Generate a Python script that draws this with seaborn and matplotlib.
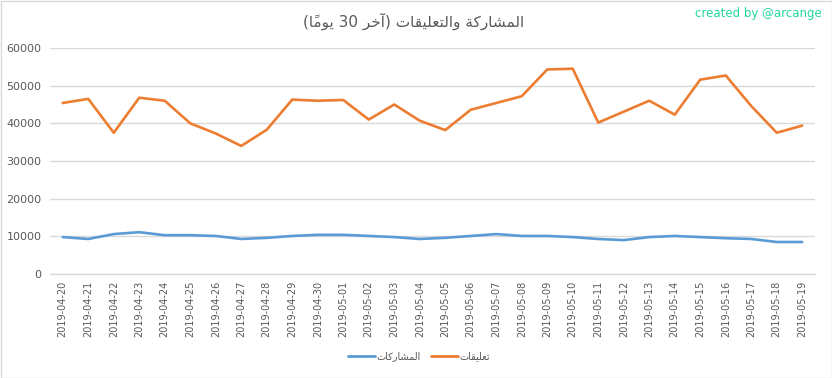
import matplotlib
matplotlib.use("Agg")
import matplotlib.pyplot as plt
from matplotlib.patches import Rectangle
from matplotlib.lines import Line2D
import seaborn as sns
import pandas as pd

dates = ["2019-04-20", "2019-04-21", "2019-04-22", "2019-04-23", "2019-04-24",
         "2019-04-25", "2019-04-26", "2019-04-27", "2019-04-28", "2019-04-29",
         "2019-04-30", "2019-05-01", "2019-05-02", "2019-05-03", "2019-05-04",
         "2019-05-05", "2019-05-06", "2019-05-07", "2019-05-08", "2019-05-09",
         "2019-05-10", "2019-05-11", "2019-05-12", "2019-05-13", "2019-05-14",
         "2019-05-15", "2019-05-16", "2019-05-17", "2019-05-18", "2019-05-19"]

posts = [9800, 9300, 10600, 11100, 10300, 10300, 10100, 9300, 9600, 10100,
         10400, 10400, 10100, 9800, 9300, 9600, 10100, 10600, 10100, 10100,
         9800, 9300, 9000, 9800, 10100, 9800, 9500, 9300, 8500, 8500]

comments = [45400, 46500, 37500, 46800, 46000, 40000, 37300, 34000, 38300, 46300,
            46000, 46200, 41000, 45000, 40700, 38200, 43600, 45400, 47200, 54300,
            54500, 40200, 43100, 46000, 42300, 51600, 52700, 44600, 37500, 39400]

series_names = ["المشاركات", "تعليقات"]
title_text = "المشاركة والتعليقات (آخر 30 يومًا)"
credit_text = "created by @arcange"
yticks = [0, 10000, 20000, 30000, 40000, 50000, 60000]

# ---- minimal Arabic shaping + visual ordering (matplotlib has no bidi) ----
FORMS = {  # iso, fin, ini, med (None => right-joining only)
    "\u0627": ("\uFE8D", "\uFE8E", None, None),
    "\u0622": ("\uFE81", "\uFE82", None, None),
    "\u0629": ("\uFE93", "\uFE94", None, None),
    "\u0631": ("\uFEAD", "\uFEAE", None, None),
    "\u0648": ("\uFEED", "\uFEEE", None, None),
    "\u062A": ("\uFE95", "\uFE96", "\uFE97", "\uFE98"),
    "\u062E": ("\uFEA5", "\uFEA6", "\uFEA7", "\uFEA8"),
    "\u0634": ("\uFEB5", "\uFEB6", "\uFEB7", "\uFEB8"),
    "\u0639": ("\uFEC9", "\uFECA", "\uFECB", "\uFECC"),
    "\u0642": ("\uFED5", "\uFED6", "\uFED7", "\uFED8"),
    "\u0643": ("\uFED9", "\uFEDA", "\uFEDB", "\uFEDC"),
    "\u0644": ("\uFEDD", "\uFEDE", "\uFEDF", "\uFEE0"),
    "\u0645": ("\uFEE1", "\uFEE2", "\uFEE3", "\uFEE4"),
    "\u064A": ("\uFEF1", "\uFEF2", "\uFEF3", "\uFEF4"),
}
MARKS = {"\u064B", "\u064C", "\u064D", "\u064E", "\u064F", "\u0650", "\u0651", "\u0652"}


def shape_word(word):
    clusters = []
    for ch in word:
        if ch in MARKS and clusters:
            clusters[-1][1].append(ch)
        else:
            clusters.append([ch, []])
    out = []
    n = len(clusters)
    for i, (b, m) in enumerate(clusters):
        if b not in FORMS:
            out.append(b + "".join(m))
            continue
        prev = clusters[i - 1][0] if i > 0 else None
        nxt = clusters[i + 1][0] if i < n - 1 else None
        join_prev = prev in FORMS and FORMS[prev][2] is not None
        join_next = nxt in FORMS and FORMS[b][2] is not None
        iso, fin, ini, med = FORMS[b]
        if join_prev and join_next:
            g = med
        elif join_prev:
            g = fin
        elif join_next:
            g = ini
        else:
            g = iso
        out.append(g + "".join(m))
    return "".join(out)


def visual(text):
    toks = text.split(" ")[::-1]
    res = []
    for t in toks:
        if any(c in FORMS for c in t):
            s = shape_word(t)[::-1]
        else:
            s = t
        s = s.replace("(", "\0").replace(")", "(").replace("\0", ")")
        res.append(s)
    return " ".join(res)


df = pd.DataFrame({
    "date": dates * 2,
    "value": posts + comments,
    "series": [visual(series_names[0])] * len(dates) + [visual(series_names[1])] * len(dates),
})

sns.set_theme(style="white")
plt.rcParams["font.family"] = ["DejaVu Sans"]

fig = plt.figure(figsize=(8.32, 3.78), dpi=100)
ax = fig.add_axes([50 / 832, 1 - 274 / 378, 765 / 832, 226 / 378])

palette = {visual(series_names[0]): "#5B9BD5", visual(series_names[1]): "#ED7D31"}
sns.lineplot(data=df, x="date", y="value", hue="series", palette=palette,
             linewidth=1.9, ax=ax, legend=False, sort=False)

ax.set_xlim(-0.5, len(dates) - 0.5)
ax.set_ylim(0, 60000)
ax.set_yticks(yticks)
ax.set_yticklabels([str(v) for v in yticks], fontsize=8, color="#595959")
ax.set_xticks(range(len(dates)))
ax.set_xticklabels(dates, rotation=90, fontsize=7, color="#595959")
ax.tick_params(axis="both", length=0, pad=6)
ax.tick_params(axis="x", pad=5)
ax.grid(axis="y", color="#D9D9D9", linewidth=1)
ax.set_axisbelow(True)
for s in ["top", "right", "left"]:
    ax.spines[s].set_visible(False)
ax.spines["bottom"].set_color("#D9D9D9")
ax.spines["bottom"].set_linewidth(1)
ax.set_xlabel("")
ax.set_ylabel("")

fig.text(414 / 832, 1 - 21 / 378, visual(title_text), ha="center", va="center",
         fontsize=11, color="#595959")
fig.text(822 / 832, 1 - 14 / 378, credit_text, ha="right", va="center",
         fontsize=8.5, color="#22D6A0")

handles = [Line2D([], [], color="#5B9BD5", lw=2), Line2D([], [], color="#ED7D31", lw=2)]
fig.legend(handles, [visual(series_names[0]), visual(series_names[1])],
           loc="center", bbox_to_anchor=(419 / 832, 1 - 356 / 378), ncol=2,
           frameon=False, fontsize=7, handlelength=2.8, columnspacing=1.0,
           handletextpad=0.2, labelcolor="#595959")

fig.patches.append(Rectangle((0.5 / 832, 0.5 / 378), 831 / 832, 377 / 378,
                             transform=fig.transFigure, fill=False,
                             edgecolor="#D9D9D9", linewidth=1))

fig.savefig("out.png", dpi=100)
